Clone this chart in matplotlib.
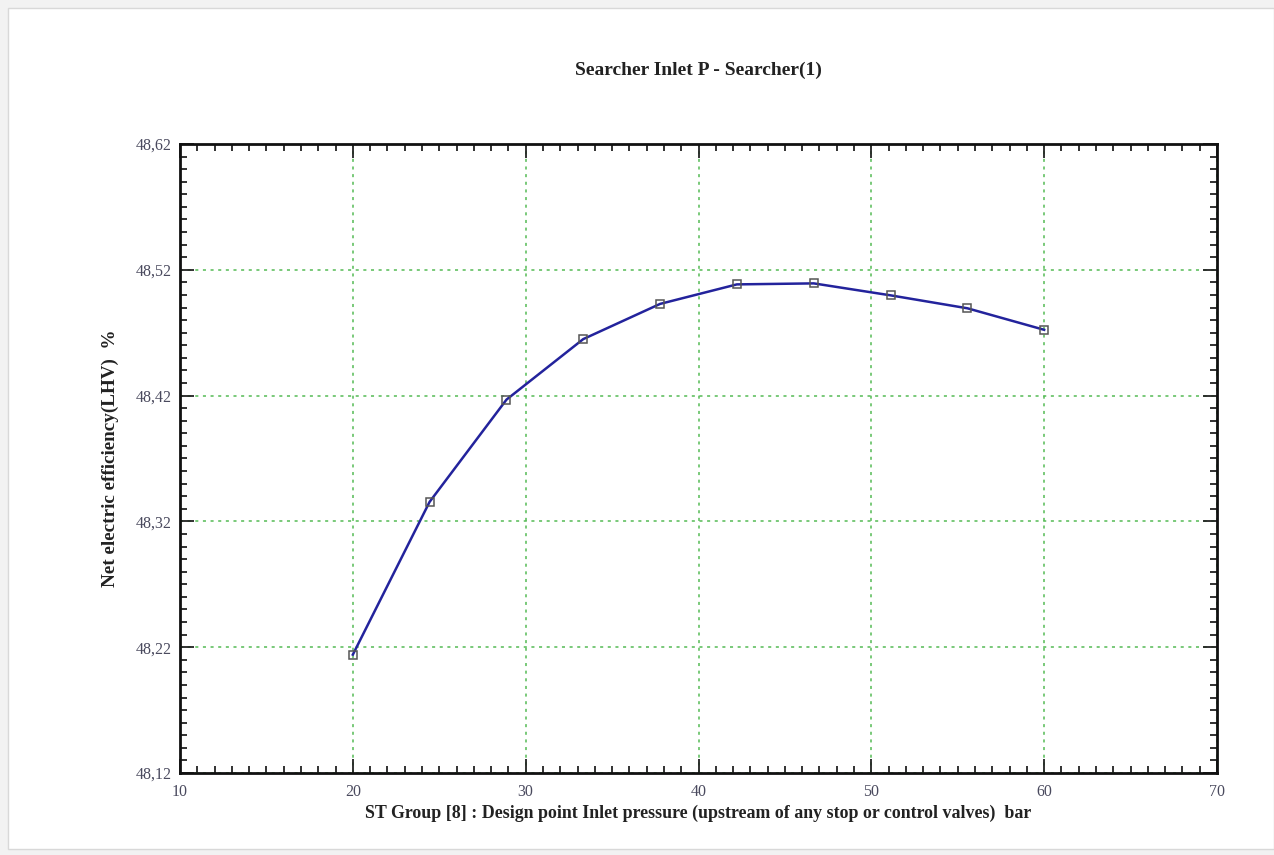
import matplotlib.pyplot as plt
from matplotlib.ticker import MultipleLocator, FixedLocator
from matplotlib.patches import Rectangle

pressure = [20.0, 24.44, 28.89, 33.33, 37.78, 42.22, 46.67, 51.11, 55.56, 60.0]
efficiency = [48.2141, 48.3355, 48.4168, 48.4649, 48.4929, 48.5084,
              48.5092, 48.4997, 48.4894, 48.4723]
x_ticks = [10, 20, 30, 40, 50, 60, 70]
y_ticks = [48.12, 48.22, 48.32, 48.42, 48.52, 48.62]
y_labels = ["48,12", "48,22", "48,32", "48,42", "48,52", "48,62"]

plt.rcParams['font.family'] = ['Liberation Serif', 'DejaVu Serif']

fig = plt.figure(figsize=(12.74, 8.55), dpi=100)
fig.patch.set_facecolor('#f2f2f2')
# white page, like the screenshot
fig.patches.append(Rectangle((8 / 1274, 6 / 855), 1 - 8 / 1274, 1 - 14 / 855,
                             transform=fig.transFigure, facecolor='white',
                             edgecolor='#d8d8d8', linewidth=1, zorder=-10))

ax = fig.add_axes([180 / 1274, 1 - 773 / 855, (1217 - 180) / 1274, (773 - 144) / 855])

ax.plot(pressure, efficiency, color='#23239c', linewidth=1.8, zorder=3)
ax.plot(pressure, efficiency, linestyle='none', marker='s', markersize=6,
        markerfacecolor='none', markeredgecolor='#555555', markeredgewidth=1.1, zorder=4)

ax.set_xlim(10, 70)
ax.set_ylim(48.12, 48.62)
ax.xaxis.set_major_locator(FixedLocator(x_ticks))
ax.xaxis.set_minor_locator(MultipleLocator(1))
ax.yaxis.set_major_locator(FixedLocator(y_ticks))
ax.yaxis.set_minor_locator(MultipleLocator(0.01))
ax.set_yticklabels(y_labels)

ax.grid(True, which='major', color='#55bb55', linestyle=(0, (2, 3)), linewidth=1.1)
ax.tick_params(which='both', direction='in', top=True, right=True, colors='#222222',
               labelcolor='#4a4a5e', labelsize=11.5, width=1.3)
ax.tick_params(which='major', length=10)
ax.tick_params(which='minor', length=5)
ax.tick_params(axis='x', pad=8)
ax.tick_params(axis='y', pad=6)
for s in ax.spines.values():
    s.set_linewidth(2)
    s.set_color('#111111')

ax.set_title('Searcher Inlet P - Searcher(1)', fontsize=14, fontweight='bold', pad=50,
             color='#222222')
ax.set_xlabel('ST Group [8] : Design point Inlet pressure (upstream of any stop or control valves)  bar',
              fontsize=12.9, fontweight='bold', labelpad=3, color='#222222')
ax.set_ylabel('Net electric efficiency(LHV)  %', fontsize=13.8, fontweight='bold',
              labelpad=12, color='#222222')

fig.savefig('out.png', dpi=100)
